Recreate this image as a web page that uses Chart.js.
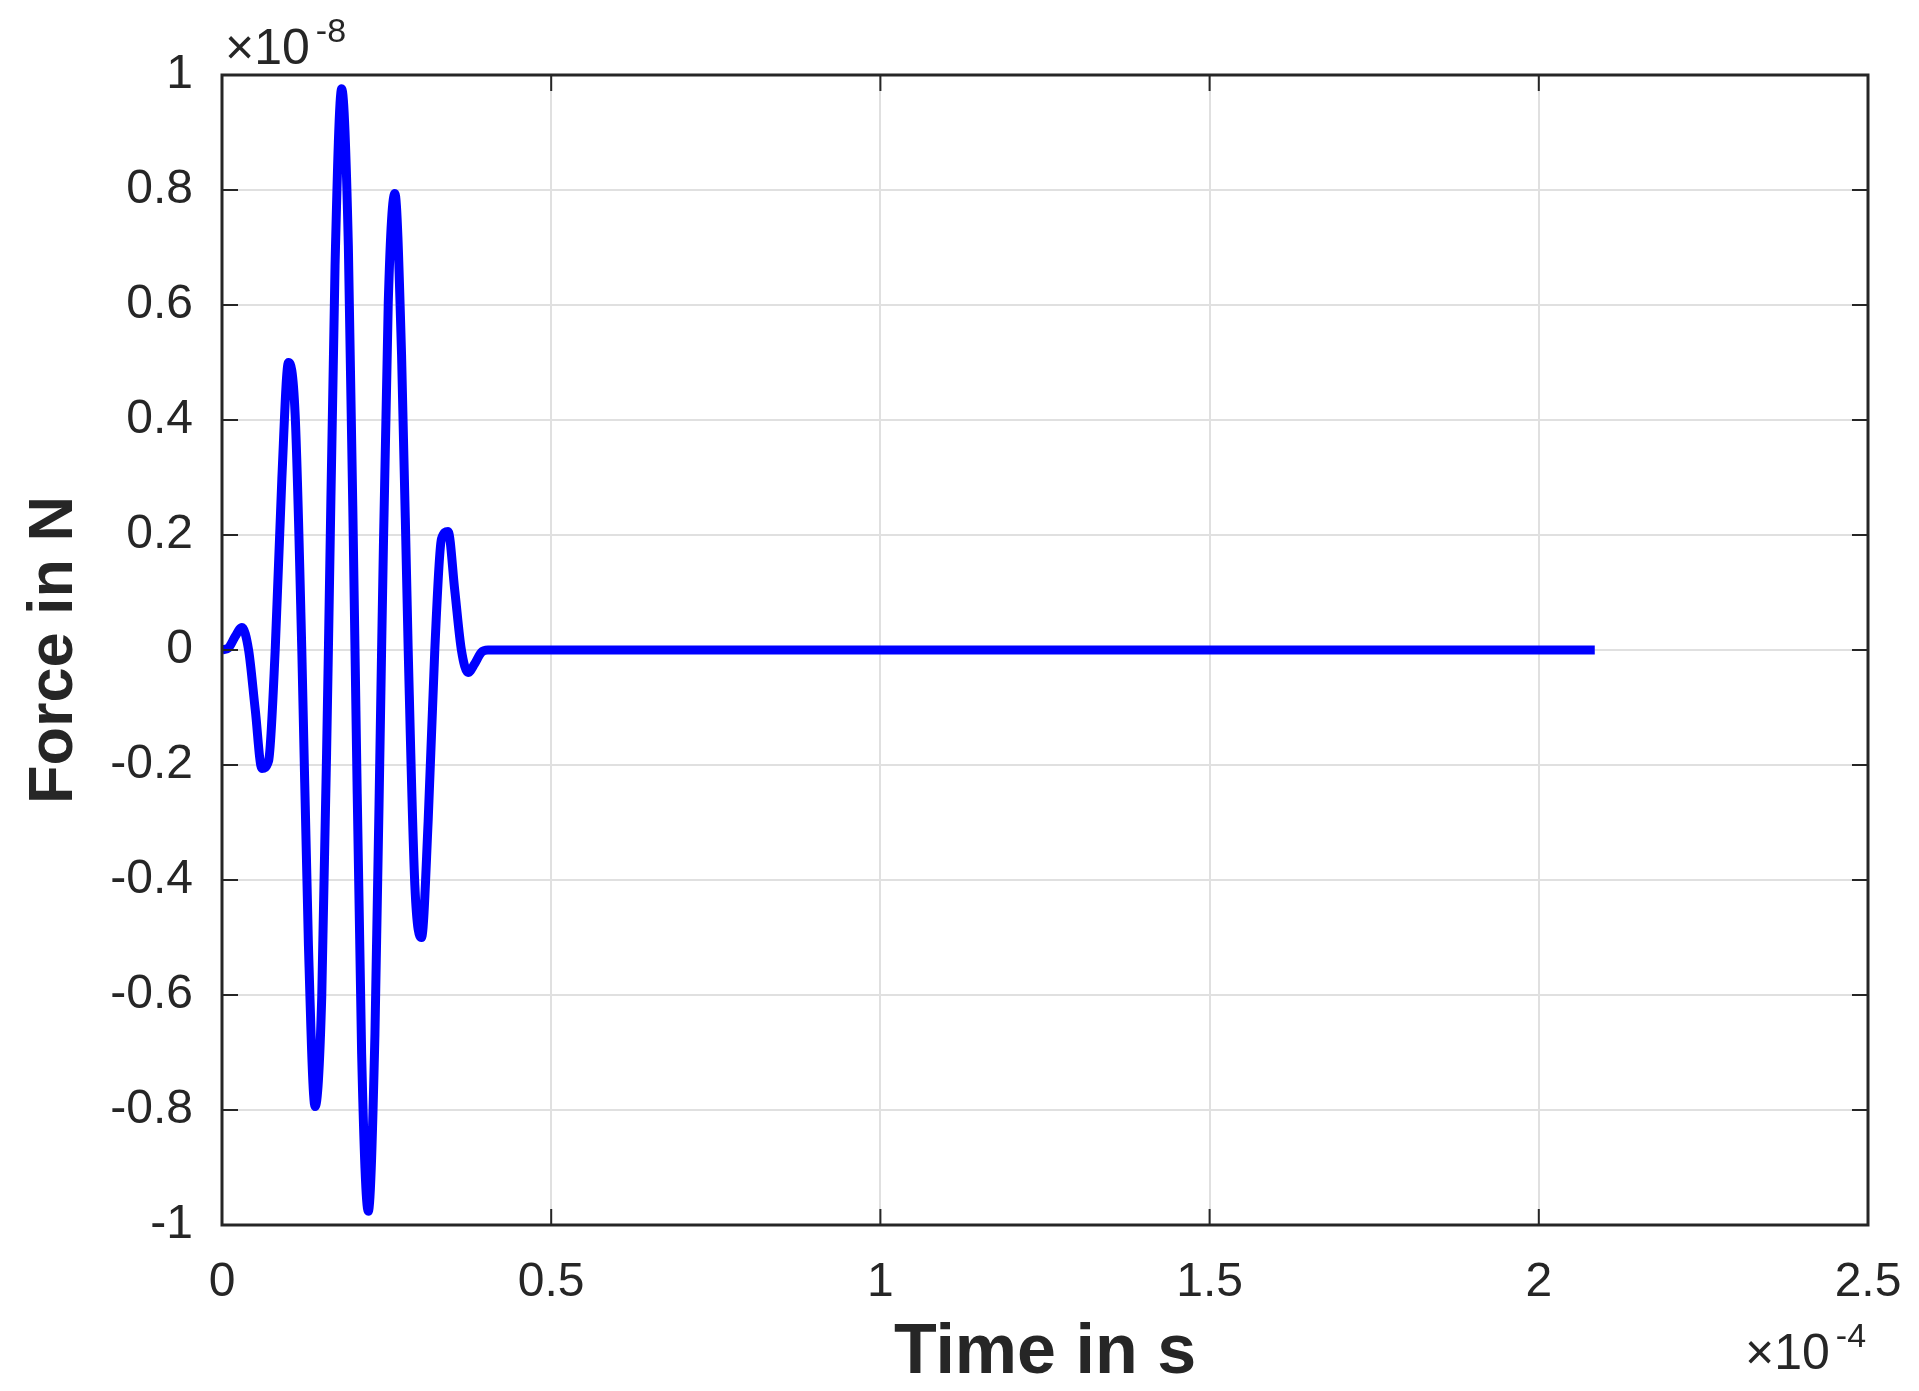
<!DOCTYPE html>
<html lang="en">
<head>
    <meta charset="UTF-8">
    <title>Force in N vs Time in s</title>
    <script src="https://cdn.jsdelivr.net/npm/chart.js"></script>
    <style>
        body { margin: 0; background: #fff; }
        #wrap { width: 1919px; height: 1391px; }
    </style>
</head>
<body>

    <div id="wrap">
        <canvas id="forceChart" width="1919" height="1391"></canvas>
    </div>

    <script>
// time axis in units of 1e-4 s, force in units of 1e-8 N
const timeE4 = [
    0, 0.0101, 0.0202, 0.0303, 0.0404, 0.0505, 0.0606, 0.0707, 0.0808, 0.0909,
    0.101, 0.1111, 0.1212, 0.1313, 0.1414, 0.1515, 0.1616, 0.1717, 0.1818, 0.1919,
    0.202, 0.2121, 0.2222, 0.2323, 0.2424, 0.2525, 0.2626, 0.2727, 0.2828, 0.2929,
    0.303, 0.3131, 0.3232, 0.3333, 0.3434, 0.3535, 0.3636, 0.3737, 0.3838, 0.3939,
    0.404, 2.085
];
const forceE8 = [
    0, 0.004, 0.024, 0.039, 0, -0.104, -0.206, -0.193, 0, 0.298,
    0.5, 0.409, 0, -0.514, -0.794, -0.603, 0, 0.668, 0.976, 0.703,
    0, -0.703, -0.976, -0.668, 0, 0.603, 0.794, 0.514, 0, -0.409,
    -0.5, -0.298, 0, 0.193, 0.206, 0.104, 0, -0.039, -0.024, -0.004,
    0, 0
];
const xTicks = [0, 0.5, 1, 1.5, 2, 2.5];
const yTicks = [-1, -0.8, -0.6, -0.4, -0.2, 0, 0.2, 0.4, 0.6, 0.8, 1];

const ink = '#262626';
const fontFam = '"Liberation Sans", Arial, Helvetica, sans-serif';

// box, inward ticks and the x10^n exponent labels, matlab style
const axesBox = {
    id: 'axesBox',
    afterDraw(chart) {
        const ctx = chart.ctx;
        const a = chart.chartArea;
        const xs = chart.scales.x, ys = chart.scales.y;
        const len = 16;
        ctx.save();
        ctx.strokeStyle = ink;
        ctx.lineWidth = 3;
        ctx.strokeRect(a.left, a.top, a.right - a.left, a.bottom - a.top);
        ctx.lineWidth = 2;
        ctx.beginPath();
        xTicks.forEach(v => {
            const px = xs.getPixelForValue(v);
            ctx.moveTo(px, a.bottom); ctx.lineTo(px, a.bottom - len);
            ctx.moveTo(px, a.top); ctx.lineTo(px, a.top + len);
        });
        yTicks.forEach(v => {
            const py = ys.getPixelForValue(v);
            ctx.moveTo(a.left, py); ctx.lineTo(a.left + len, py);
            ctx.moveTo(a.right, py); ctx.lineTo(a.right - len, py);
        });
        ctx.stroke();

        ctx.fillStyle = ink;
        ctx.textBaseline = 'alphabetic';
        ctx.textAlign = 'left';
        // y exponent
        ctx.font = '50px ' + fontFam;
        ctx.fillText('\u00d710', a.left + 3, 64);
        let w = ctx.measureText('\u00d710').width;
        ctx.font = '34px ' + fontFam;
        ctx.fillText('-8', a.left + 3 + w + 6, 42);
        // x exponent
        ctx.font = '50px ' + fontFam;
        ctx.fillText('\u00d710', 1745, 1369);
        w = ctx.measureText('\u00d710').width;
        ctx.font = '34px ' + fontFam;
        ctx.fillText('-4', 1745 + w + 6, 1347);
        ctx.restore();
    }
};

const points = timeE4.map((t, i) => ({ x: t, y: forceE8[i] }));

const ctx = document.getElementById('forceChart').getContext('2d');
const forceChart = new Chart(ctx, {
    type: 'line',
    data: {
        datasets: [{
            label: 'Force',
            data: points,
            borderColor: '#0000ff',
            borderWidth: 9,
            pointRadius: 0,
            fill: false,
            cubicInterpolationMode: 'monotone',
            borderCapStyle: 'butt',
            borderJoinStyle: 'round'
        }]
    },
    plugins: [axesBox],
    options: {
        responsive: false,
        animation: false,
        layout: { padding: { left: 0, top: 75, right: 51, bottom: 0 } },
        plugins: {
            legend: { display: false },
            tooltip: { enabled: false }
        },
        scales: {
            x: {
                type: 'linear',
                min: 0,
                max: 2.5,
                afterFit: s => { s.height = 166; s.paddingLeft = 0; s.paddingRight = 0; },
                afterBuildTicks: s => { s.ticks = xTicks.map(v => ({ value: v })); },
                grid: { color: '#e0e0e0', lineWidth: 2, drawTicks: false },
                border: { display: false },
                ticks: {
                    padding: 29,
                    color: ink,
                    font: { family: fontFam, size: 48 },
                    callback: v => String(+v.toFixed(2))
                },
                title: {
                    display: true,
                    text: 'Time in s',
                    color: ink,
                    font: { family: fontFam, size: 70, weight: 'bold', lineHeight: 1.2 },
                    padding: { top: 0, bottom: -5 }
                }
            },
            y: {
                type: 'linear',
                min: -1,
                max: 1,
                afterFit: s => { s.width = 222; s.paddingTop = 0; s.paddingBottom = 0; },
                afterBuildTicks: s => { s.ticks = yTicks.map(v => ({ value: v })); },
                grid: { color: '#e0e0e0', lineWidth: 2, drawTicks: false },
                border: { display: false },
                ticks: {
                    padding: 29,
                    color: ink,
                    font: { family: fontFam, size: 48 },
                    callback: v => String(+v.toFixed(2))
                },
                title: {
                    display: true,
                    text: 'Force in N',
                    color: ink,
                    font: { family: fontFam, size: 63, weight: 'bold', lineHeight: 1.2 },
                    padding: { top: 17, bottom: 0 }
                }
            }
        }
    }
});
    </script>
</body>
</html>
